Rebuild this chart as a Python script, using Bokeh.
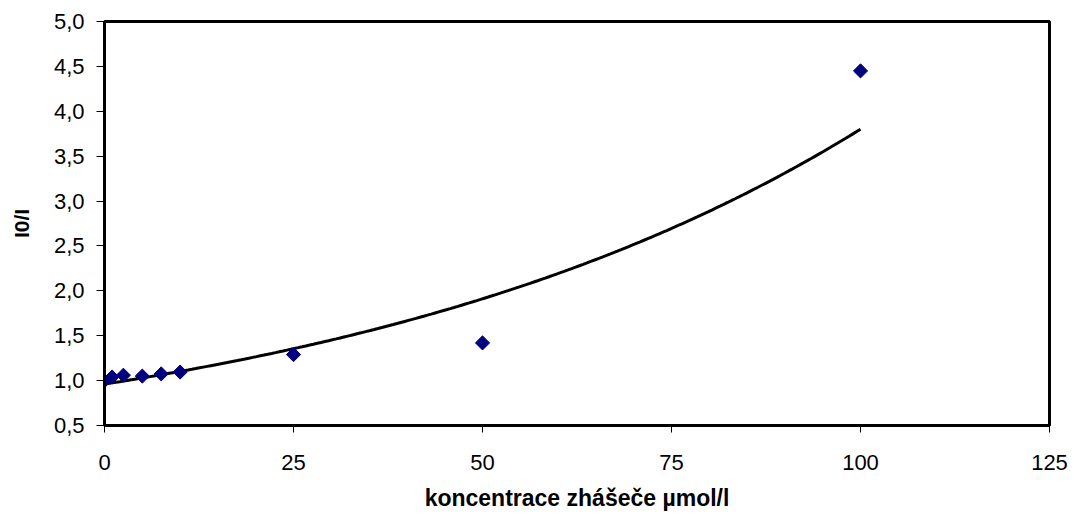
import numpy as np
from bokeh.plotting import figure
from bokeh.models import FixedTicker, Range1d
from bokeh.embed import file_html
from bokeh.resources import INLINE

# quencher concentration (µmol/l) and relative intensity I0/I
conc = [0, 1, 2.5, 5, 7.5, 10, 25, 50, 100]
ratio = [1.00, 1.04, 1.06, 1.05, 1.075, 1.095, 1.29, 1.42, 4.45]

x_ticks = [0, 25, 50, 75, 100, 125]
y_ticks = [0.5, 1.0, 1.5, 2.0, 2.5, 3.0, 3.5, 4.0, 4.5, 5.0]

# exponential trend line fitted on ln(y)
b, a = np.polyfit(conc, np.log(ratio), 1)
tx = np.linspace(min(conc), max(conc), 200)
ty = np.exp(a) * np.exp(b * tx)

FONT = "Liberation Sans"

p = figure(width=1074, height=521, output_backend="svg", toolbar_location=None,
           x_range=Range1d(0, 125), y_range=Range1d(0.5, 5.0),
           min_border_left=104, min_border_right=25, min_border_top=21,
           min_border_bottom=96)
p.background_fill_color = "white"
p.border_fill_color = "white"
p.outline_line_color = "black"
p.outline_line_width = 3
p.grid.visible = False

p.line(tx, ty, line_color="black", line_width=3)
p.scatter(conc, ratio, marker="square", angle=np.pi / 4, size=10,
          fill_color="#000080", line_color="#000080")

for ax in (p.xaxis[0], p.yaxis[0]):
    ax.axis_line_width = 3
    ax.axis_line_color = "black"
    ax.major_tick_line_color = "black"
    ax.major_tick_line_width = 1
    ax.major_tick_in = 0
    ax.minor_tick_line_color = None
    ax.major_label_text_font = FONT
    ax.major_label_text_font_size = "22px"
    ax.major_label_text_color = "black"
    ax.axis_label_text_font = FONT
    ax.axis_label_text_font_style = "bold"
    ax.axis_label_text_font_size = "23px"
    ax.axis_label_text_color = "black"

p.xaxis.ticker = FixedTicker(ticks=x_ticks)
p.yaxis.ticker = FixedTicker(ticks=y_ticks)
p.yaxis.major_label_overrides = {t: f"{t:.1f}".replace(".", ",") for t in y_ticks}
p.xaxis.major_label_overrides = {t: str(t) for t in x_ticks}
p.xaxis.major_tick_out = 7
p.yaxis.major_tick_out = 8
p.xaxis.major_label_standoff = 22
p.yaxis.major_label_standoff = 12
p.xaxis.axis_label = "koncentrace zhášeče µmol/l"
p.yaxis.axis_label = "I0/I"
p.yaxis.axis_label_text_font_size = "21px"
p.xaxis.axis_label_standoff = 12
p.yaxis.axis_label_standoff = 18

open("out.html", "w").write(file_html(p, INLINE))
